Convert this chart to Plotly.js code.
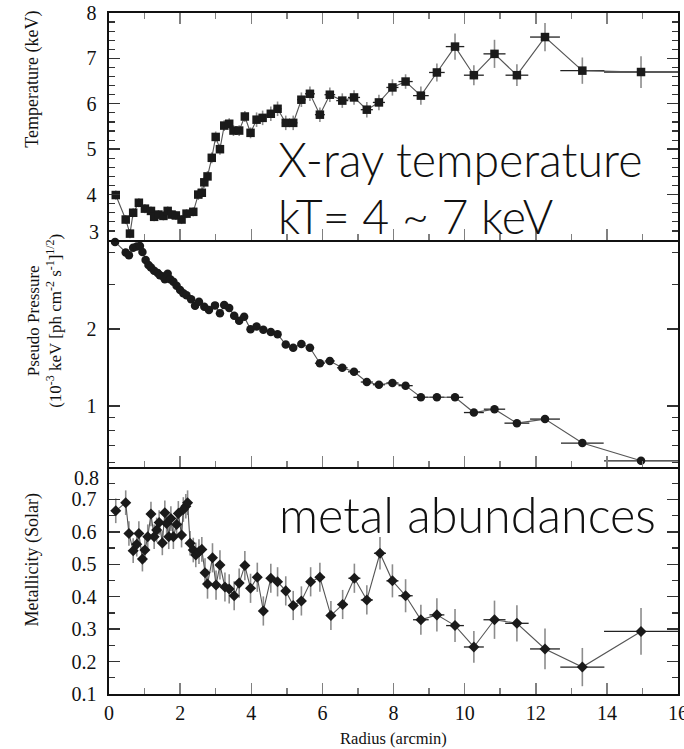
<!DOCTYPE html>
<html>
<head>
<meta charset="utf-8">
<script src="https://cdn.plot.ly/plotly-3.0.1.min.js"></script>
<style>
  html, body { margin: 0; padding: 0; background: #fff; }
  #chart { width: 684px; height: 749px; }
</style>
</head>
<body>
<div id="chart"></div>
<script>
// ---- Temperature profile (keV) ----
const tempR = [0.19,0.47,0.59,0.68,0.84,1.01,1.18,1.27,1.39,1.53,1.65,1.76,1.88,2.04,2.18,2.37,
  2.51,2.61,2.68,2.77,2.89,3.00,3.12,3.24,3.38,3.50,3.66,3.82,3.98,
  4.15,4.32,4.55,4.74,4.97,5.18,5.41,5.65,5.93,6.21,6.56,6.89,
  7.25,7.59,7.97,8.34,8.77,9.22,9.73,10.26,10.84,11.47,12.26,13.31,14.96];
const tempKT = [3.99,3.45,3.14,3.60,3.82,3.69,3.64,3.51,3.56,3.53,3.64,3.56,3.54,3.45,3.58,3.62,
  4.00,4.04,4.27,4.40,4.81,5.27,5.00,5.52,5.56,5.41,5.41,5.72,5.36,
  5.65,5.69,5.78,5.89,5.58,5.58,6.09,6.22,5.76,6.20,6.07,6.14,
  5.87,6.03,6.36,6.49,6.18,6.69,7.26,6.63,7.10,6.63,7.47,6.73,6.70];
const tempErr = [0.10,0.10,0.10,0.10,0.10,0.10,0.10,0.10,0.10,0.10,0.10,0.10,0.10,0.10,0.10,0.10,
  0.12,0.12,0.12,0.12,0.12,0.12,0.12,0.12,0.12,0.12,0.12,0.12,0.12,
  0.16,0.16,0.16,0.16,0.16,0.16,0.16,0.16,0.16,0.16,0.16,0.16,
  0.17,0.17,0.18,0.16,0.20,0.20,0.29,0.22,0.31,0.24,0.31,0.29,0.35];
const tempRErr = [0.05,0.05,0.05,0.05,0.05,0.05,0.05,0.05,0.05,0.05,0.05,0.05,0.05,0.05,0.05,0.05,
  0.05,0.05,0.05,0.05,0.05,0.05,0.05,0.05,0.05,0.05,0.05,0.05,0.05,
  0.10,0.10,0.11,0.11,0.11,0.12,0.12,0.14,0.14,0.15,0.17,0.17,
  0.17,0.17,0.17,0.20,0.22,0.22,0.26,0.28,0.31,0.32,0.42,0.62,1.04];

// ---- Pseudo pressure profile ----
const presR = [0.17,0.47,0.56,0.68,0.78,0.87,0.94,1.03,1.11,1.18,1.27,1.37,1.43,1.53,1.57,1.65,1.72,1.81,1.90,2.00,
  2.09,2.18,2.31,2.42,2.53,2.68,2.81,2.98,3.12,3.24,3.38,3.52,3.66,3.80,3.98,4.15,4.34,4.55,4.74,4.97,
  5.18,5.41,5.65,5.93,6.21,6.56,6.89,7.25,7.59,7.97,8.34,8.77,9.22,9.73,10.26,10.84,11.47,12.26,13.31,14.96];
const presP = [4.40,4.00,3.90,4.18,4.22,4.24,4.02,3.74,3.57,3.49,3.39,3.32,3.26,3.22,3.14,3.30,3.14,3.07,2.96,2.85,
  2.77,2.72,2.62,2.47,2.56,2.45,2.38,2.48,2.31,2.49,2.42,2.26,2.16,2.24,2.00,2.05,1.99,1.95,1.91,1.74,
  1.69,1.75,1.69,1.47,1.50,1.41,1.36,1.24,1.21,1.23,1.20,1.08,1.08,1.08,0.941,0.97,0.855,0.887,0.714,0.608];
const presRErr = [0.05,0.05,0.05,0.05,0.05,0.05,0.05,0.05,0.05,0.05,0.05,0.05,0.05,0.05,0.05,0.05,0.05,0.05,0.05,0.05,
  0.05,0.05,0.05,0.05,0.05,0.05,0.05,0.05,0.05,0.05,0.05,0.05,0.05,0.05,0.05,0.08,0.08,0.08,0.08,0.10,
  0.10,0.11,0.12,0.14,0.14,0.15,0.17,0.17,0.17,0.17,0.20,0.21,0.21,0.23,0.28,0.30,0.35,0.42,0.60,1.04];

// ---- Metallicity profile (solar) ----
const metR = [0.19,0.47,0.56,0.68,0.78,0.84,0.94,1.01,1.09,1.18,1.27,1.34,1.41,1.50,1.57,1.62,1.68,1.74,1.81,1.90,
  1.95,2.04,2.09,2.16,2.21,2.28,2.37,2.44,2.53,2.61,2.70,2.77,2.91,3.01,3.12,3.26,3.38,3.52,3.66,3.82,
  3.98,4.17,4.34,4.55,4.74,4.97,5.18,5.41,5.67,5.93,6.24,6.57,6.90,7.25,7.62,7.97,8.34,8.77,9.22,9.73,
  10.26,10.84,11.47,12.26,13.31,14.96];
const metZ = [0.665,0.690,0.595,0.542,0.562,0.595,0.516,0.544,0.585,0.655,0.585,0.606,0.629,0.566,0.659,0.626,0.585,0.641,0.585,0.623,
  0.657,0.590,0.669,0.679,0.690,0.565,0.544,0.529,0.539,0.546,0.474,0.439,0.520,0.436,0.498,0.430,0.424,0.403,0.442,0.496,
  0.426,0.460,0.356,0.457,0.446,0.418,0.373,0.387,0.446,0.460,0.342,0.376,0.457,0.390,0.534,0.449,0.403,0.329,0.344,0.311,
  0.245,0.329,0.318,0.239,0.183,0.293];
const metErr = [0.038,0.038,0.038,0.038,0.038,0.038,0.038,0.038,0.038,0.038,0.038,0.038,0.038,0.038,0.038,0.038,0.038,0.038,0.038,0.038,
  0.038,0.038,0.038,0.038,0.038,0.038,0.038,0.038,0.038,0.038,0.045,0.045,0.045,0.045,0.045,0.045,0.045,0.045,0.045,0.045,
  0.045,0.045,0.045,0.045,0.045,0.045,0.045,0.045,0.045,0.045,0.045,0.045,0.045,0.045,0.050,0.051,0.051,0.046,0.051,0.051,
  0.049,0.059,0.056,0.063,0.059,0.072];
const metRErr = [0.05,0.05,0.05,0.05,0.05,0.05,0.05,0.05,0.05,0.05,0.05,0.05,0.05,0.05,0.05,0.05,0.05,0.05,0.05,0.05,
  0.05,0.05,0.05,0.05,0.05,0.05,0.05,0.05,0.05,0.05,0.05,0.05,0.05,0.05,0.05,0.05,0.05,0.05,0.05,0.05,
  0.05,0.08,0.08,0.08,0.08,0.10,0.10,0.11,0.12,0.14,0.14,0.15,0.17,0.17,0.17,0.17,0.20,0.22,0.21,0.25,
  0.28,0.31,0.33,0.42,0.62,1.04];

// ---- Axis tick values ----
const radiusTicks = [0,2,4,6,8,10,12,14,16];
const tempTicks = [4,5,6,7,8];
const presTicks = [1,2];
const presMinorTicks = [0.6,0.7,0.8,0.9,3,4];
const metTicks = [0.1,0.2,0.3,0.4,0.5,0.6,0.7];

const serif = '"Liberation Serif", "Times New Roman", serif';
const display = 'Lato, "Open Sans", sans-serif';
const ink = '#1a1a1a';
const lineGrey = '#555';
const vErrGrey = '#8c8c8c';
const tickSize = 20;

function profile(x, y, ey, ex, xa, ya, symbol, size) {
  return {
    x: x, y: y, xaxis: xa, yaxis: ya, type: 'scatter', mode: 'lines+markers',
    cliponaxis: false,
    line: { color: lineGrey, width: 1.1 },
    marker: { symbol: symbol, size: size, color: ink },
    error_y: ey ? { type: 'data', array: ey, visible: true, color: vErrGrey, thickness: 1.6, width: 0 } : undefined,
    error_x: { type: 'data', array: ex, visible: true, color: '#222', thickness: 1.3, width: 0 },
    hoverinfo: 'x+y', showlegend: false
  };
}

const traces = [
  profile(tempR, tempKT, tempErr, tempRErr, 'x3', 'y', 'square', 8.5),
  profile(presR, presP, null, presRErr, 'x2', 'y2', 'circle', 8.5),
  profile(metR, metZ, metErr, metRErr, 'x', 'y3', 'diamond', 8.5)
];

// Radius axes: one per panel, plus tick-only axes on the tops of the lower
// panels so that shared panel edges carry a single frame line.
const tickStyle = {
  range: [0, 16], tickmode: 'array', tickvals: radiusTicks,
  ticks: 'inside', ticklen: 11, tickwidth: 1.5, tickcolor: '#808080',
  minor: { dtick: 1, tick0: 0, ticks: 'inside', ticklen: 6, tickwidth: 1.5, tickcolor: '#808080' },
  showgrid: false, zeroline: false, fixedrange: true,
  tickfont: { family: serif, size: tickSize, color: '#111' }
};
function radiusAxis(extra) {
  return Object.assign({}, tickStyle, { showline: true, linecolor: '#111', linewidth: 1.6 }, extra);
}
function topTickAxis(extra) {
  return Object.assign({}, tickStyle, { showline: false, side: 'top', showticklabels: false }, extra);
}

const yCommon = {
  ticks: 'inside', ticklen: 11, tickwidth: 1.4, tickcolor: '#333',
  showline: true, linecolor: '#111', linewidth: 1.6, mirror: 'allticks',
  showgrid: false, zeroline: false, fixedrange: true,
  tickfont: { family: serif, size: tickSize, color: '#111' }, ticklabelstandoff: 7
};

const layout = {
  width: 684, height: 749,
  margin: { l: 109, r: 6, t: 13, b: 55 },
  paper_bgcolor: '#fff', plot_bgcolor: '#fff',
  font: { family: serif, color: '#111' },
  xaxis: radiusAxis({
    anchor: 'y3', mirror: false, showticklabels: true, ticklabeloverflow: 'allow',
    title: { text: 'Radius (arcmin)', font: { family: serif, size: 16.5, color: '#111' }, standoff: 10 }
  }),
  xaxis2: radiusAxis({ anchor: 'y2', mirror: false, showticklabels: false }),
  xaxis3: radiusAxis({ anchor: 'y', mirror: 'allticks', showticklabels: false }),
  xaxis4: topTickAxis({ anchor: 'y3', overlaying: 'x' }),
  xaxis5: topTickAxis({ anchor: 'y2', overlaying: 'x2' }),
  yaxis: Object.assign({}, yCommon, {
    domain: [0.6667, 1], range: [3, 8], tickmode: 'array', tickvals: tempTicks,
    minor: { dtick: 0.2, tick0: 3, ticks: 'inside', ticklen: 6, tickwidth: 1.2, tickcolor: '#333' }
  }),
  yaxis2: Object.assign({}, yCommon, {
    domain: [0.3333, 0.6667], type: 'log', range: [Math.log10(0.575), Math.log10(4.48)],
    tickmode: 'array', tickvals: presTicks, ticktext: presTicks.map(String),
    minor: { tickmode: 'array', tickvals: presMinorTicks, ticks: 'inside', ticklen: 6, tickwidth: 1.2, tickcolor: '#333' }
  }),
  yaxis3: Object.assign({}, yCommon, {
    domain: [0, 0.3333], range: [0.1, 0.8], tickmode: 'array', tickvals: metTicks,
    ticktext: metTicks.map(v => v.toFixed(1)),
    minor: { dtick: 0.05, tick0: 0.1, ticks: 'inside', ticklen: 6, tickwidth: 1.2, tickcolor: '#333' }
  }),
  annotations: [
    // panel labels
    { text: 'X-ray temperature', xref: 'paper', yref: 'paper', x: 0.293, y: 0.786,
      xanchor: 'left', yanchor: 'middle', showarrow: false,
      font: { family: display, size: 46.5, weight: 300, color: '#111' } },
    { text: 'kT= 4 ~ 7 keV', xref: 'paper', yref: 'paper', x: 0.293, y: 0.702,
      xanchor: 'left', yanchor: 'middle', showarrow: false,
      font: { family: display, size: 46.5, weight: 300, color: '#111' } },
    { text: 'metal abundances', xref: 'paper', yref: 'paper', x: 0.296, y: 0.265,
      xanchor: 'left', yanchor: 'middle', showarrow: false,
      font: { family: display, size: 48.5, weight: 300, color: '#111' } },
    // y-axis titles
    { text: 'Temperature (keV)', xref: 'paper', yref: 'paper', x: 0, xshift: -76, y: 0.902,
      textangle: -90, xanchor: 'center', yanchor: 'middle', showarrow: false,
      font: { family: serif, size: 18, color: '#111' } },
    { text: 'Pseudo Pressure<br>(10<sup>-3</sup> keV [ph cm<sup>-2</sup> s<sup>-1</sup>]<sup>1/2</sup>)',
      xref: 'paper', yref: 'paper', x: 0, xshift: -64, y: 0.548,
      textangle: -90, xanchor: 'center', yanchor: 'middle', showarrow: false,
      font: { family: serif, size: 17, color: '#111' } },
    { text: 'Metallicity (Solar)', xref: 'paper', yref: 'paper', x: 0, xshift: -76, y: 0.196,
      textangle: -90, xanchor: 'center', yanchor: 'middle', showarrow: false,
      font: { family: serif, size: 18, color: '#111' } },
    // boundary tick labels, nudged inside their panels
    { text: '3', xref: 'paper', yref: 'paper', x: 0, xshift: -8, y: 0.6667, yshift: 8,
      xanchor: 'right', yanchor: 'middle', showarrow: false,
      font: { family: serif, size: tickSize, color: '#111' } },
    { text: '0.8', xref: 'paper', yref: 'paper', x: 0, xshift: -8, y: 0.3333, yshift: -11,
      xanchor: 'right', yanchor: 'middle', showarrow: false,
      font: { family: serif, size: tickSize, color: '#111' } },
    { text: '0.2', xref: 'paper', yref: 'paper', x: 0, xshift: -5, y: 1, yshift: 7,
      xanchor: 'right', yanchor: 'bottom', showarrow: false,
      font: { family: serif, size: tickSize, color: '#111' } }
  ]
};

Plotly.newPlot('chart', traces, layout, { staticPlot: true, displayModeBar: false });
</script>
</body>
</html>
